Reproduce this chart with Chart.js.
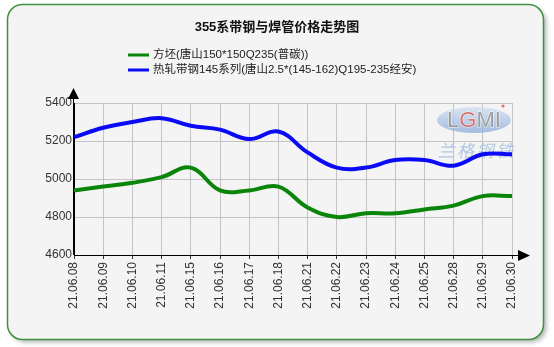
<!DOCTYPE html>
<html>
<head>
<meta charset="utf-8">
<script src="https://cdn.jsdelivr.net/npm/chart.js@4/dist/chart.umd.min.js"></script>
<style>
  html, body { margin: 0; padding: 0; background: #ffffff; }
  #wrap { width: 554px; height: 347px; position: relative; }
</style>
</head>
<body>
<div id="wrap"><canvas id="c" width="554" height="347"></canvas></div>
<script>
// Trading dates (June 2021)
const dates = ['21.06.08', '21.06.09', '21.06.10', '21.06.11', '21.06.15', '21.06.16',
               '21.06.17', '21.06.18', '21.06.21', '21.06.22', '21.06.23', '21.06.24',
               '21.06.25', '21.06.28', '21.06.29', '21.06.30'];

const chartTitle = '355系带钢与焊管价格走势图';
const billetLabel = '方坯(唐山150*150Q235(普碳))';
const stripLabel = '热轧带钢145系列(唐山2.5*(145-162)Q195-235经安)';

// Prices, yuan/ton
const billetPrices = [4940, 4960, 4980, 5010, 5060, 4940, 4940, 4960,
                      4850, 4800, 4820, 4820, 4840, 4860, 4910, 4910];
const stripPrices  = [5220, 5270, 5300, 5320, 5280, 5260, 5210, 5250,
                      5140, 5060, 5060, 5100, 5100, 5070, 5130, 5130];

const yMin = 4600, yMax = 5400, yStep = 200;

const FONT = '"Liberation Sans", Arial, "Noto Sans CJK SC", sans-serif';

// Card background with rounded corners and a soft shadow
const cardPlugin = {
  id: 'card',
  beforeDraw(chart) {
    const ctx = chart.ctx;
    const x = 7.5, y = 4.5, w = 536, h = 335, r = 15;
    const rr = (ox, oy) => {
      ctx.beginPath();
      ctx.moveTo(x + ox + r, y + oy);
      ctx.arcTo(x + ox + w, y + oy, x + ox + w, y + oy + h, r);
      ctx.arcTo(x + ox + w, y + oy + h, x + ox, y + oy + h, r);
      ctx.arcTo(x + ox, y + oy + h, x + ox, y + oy, r);
      ctx.arcTo(x + ox, y + oy, x + ox + w, y + oy, r);
      ctx.closePath();
    };
    ctx.save();
    ctx.fillStyle = '#ffffff';
    ctx.fillRect(0, 0, chart.width, chart.height);
    ctx.filter = 'blur(2px)';
    ctx.fillStyle = 'rgba(0,0,0,0.28)';
    rr(3, 3);
    ctx.fill();
    ctx.filter = 'none';
    rr(0, 0);
    ctx.fillStyle = '#f4f4f4';
    ctx.fill();
    ctx.lineWidth = 1.5;
    ctx.strokeStyle = '#3f9140';
    ctx.stroke();
    ctx.restore();
  }
};

// Faint publisher mark in the upper right of the plot
const markPlugin = {
  id: 'mark',
  beforeDatasetsDraw(chart) {
    const ctx = chart.ctx;
    const cx = 474, cy = 120;
    ctx.save();
    ctx.globalAlpha = 0.8;
    const g = ctx.createLinearGradient(cx, cy - 13, cx, cy + 13);
    g.addColorStop(0, '#d3e0f2');
    g.addColorStop(1, '#8eafdb');
    ctx.fillStyle = g;
    ctx.beginPath();
    ctx.ellipse(cx, cy, 37, 13, 0, 0, Math.PI * 2);
    ctx.fill();
    ctx.font = '22px ' + FONT;
    ctx.textAlign = 'left';
    ctx.textBaseline = 'middle';
    const parts = [['L', '#8c8c8c'], ['G', '#d65a55'], ['M', '#8c8c8c'], ['I', '#8c8c8c']];
    let total = 0;
    for (const [ch] of parts) total += ctx.measureText(ch).width;
    let tx = cx - total / 2;
    ctx.lineWidth = 1;
    for (const [ch, col] of parts) {
      ctx.fillStyle = col;
      ctx.strokeStyle = '#ffffff';
      ctx.strokeText(ch, tx, cy + 1);
      ctx.fillText(ch, tx, cy + 1);
      tx += ctx.measureText(ch).width;
    }
    ctx.fillStyle = '#e05050';
    ctx.beginPath();
    ctx.arc(cx + 29, cy - 14, 1.6, 0, Math.PI * 2);
    ctx.fill();
    ctx.font = 'italic 17px "Noto Sans CJK SC", sans-serif';
    ctx.fillStyle = '#a3bbdd';
    ctx.textAlign = 'center';
    const chars = ['兰', '格', '钢', '铁'];
    chars.forEach((ch, i) => ctx.fillText(ch, cx - 28 + i * 19.5, cy + 31));
    ctx.restore();
  }
};

// Title, legend and axis arrow heads
const decorPlugin = {
  id: 'decor',
  afterDraw(chart) {
    const ctx = chart.ctx;
    const area = chart.chartArea;
    ctx.save();
    ctx.fillStyle = '#111';
    ctx.font = 'bold 13px ' + FONT;
    ctx.textAlign = 'center';
    ctx.textBaseline = 'middle';
    ctx.fillText(chartTitle, 277, 27);

    ctx.font = '11.5px ' + FONT;
    ctx.textAlign = 'left';
    chart.data.datasets.forEach((ds, i) => {
      const ly = 55 + i * 15;
      ctx.strokeStyle = ds.borderColor;
      ctx.lineWidth = 3;
      ctx.beginPath();
      ctx.moveTo(128, ly);
      ctx.lineTo(149, ly);
      ctx.stroke();
      ctx.fillStyle = '#222';
      ctx.fillText(ds.label, 153, ly);
    });

    // arrow heads on the axes
    ctx.fillStyle = '#000';
    ctx.strokeStyle = '#000';
    ctx.lineWidth = 1;
    const ax = area.left, ay = area.bottom;
    ctx.beginPath();
    ctx.moveTo(ax - 0.5, ay);
    ctx.lineTo(ax - 0.5, area.top - 8);
    ctx.stroke();
    ctx.beginPath();
    ctx.moveTo(ax - 0.5, area.top - 15);
    ctx.lineTo(ax - 6, area.top - 4);
    ctx.lineTo(ax + 5, area.top - 4);
    ctx.closePath();
    ctx.fill();
    ctx.beginPath();
    ctx.moveTo(area.right, ay + 0.5);
    ctx.lineTo(area.right + 8, ay + 0.5);
    ctx.stroke();
    ctx.beginPath();
    ctx.moveTo(area.right + 18, ay + 0.5);
    ctx.lineTo(area.right + 6, ay - 5);
    ctx.lineTo(area.right + 6, ay + 6);
    ctx.closePath();
    ctx.fill();
    ctx.restore();
  }
};

new Chart(document.getElementById('c'), {
  type: 'line',
  data: {
    labels: dates,
    datasets: [
      {
        label: billetLabel,
        data: billetPrices,
        borderColor: '#0a850a',
        borderWidth: 4,
        tension: 0.4,
        pointRadius: 0,
        fill: false
      },
      {
        label: stripLabel,
        data: stripPrices,
        borderColor: '#0a0af5',
        borderWidth: 4,
        tension: 0.4,
        pointRadius: 0,
        fill: false
      }
    ]
  },
  options: {
    responsive: false,
    animation: false,
    devicePixelRatio: 1,
    layout: { padding: { left: 0, right: 42, top: 103, bottom: 0 } },
    plugins: {
      legend: { display: false },
      title: { display: false },
      tooltip: { enabled: false }
    },
    scales: {
      x: {
        offset: false,
        afterFit(scale) { scale.height = 92; },
        border: { display: true, color: '#000', width: 1 },
        grid: {
          color: '#c4c4c4',
          borderDash: [1, 1],
          tickBorderDash: [],
          tickColor: '#333',
          tickLength: 4,
          drawTicks: true
        },
        ticks: {
          minRotation: 90,
          maxRotation: 90,
          autoSkip: false,
          padding: 3,
          color: '#333',
          font: { family: FONT, size: 12 }
        }
      },
      y: {
        min: yMin,
        max: yMax,
        afterFit(scale) { scale.width = 74; },
        border: { display: true, color: '#000', width: 1 },
        grid: {
          color: '#c4c4c4',
          borderDash: [1, 1],
          drawTicks: false
        },
        ticks: {
          stepSize: yStep,
          padding: 2,
          color: '#333',
          font: { family: FONT, size: 12 },
          callback: (v) => String(v)
        }
      }
    }
  },
  plugins: [cardPlugin, markPlugin, decorPlugin]
});
</script>
</body>
</html>
